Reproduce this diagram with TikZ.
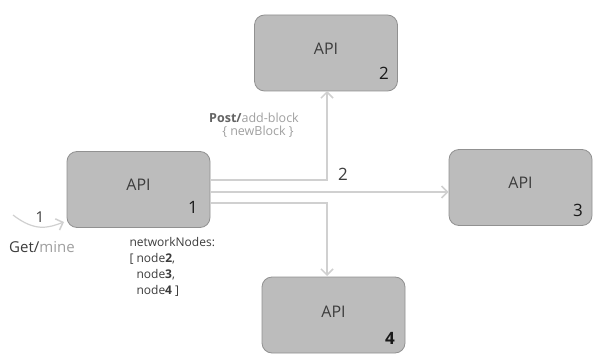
\documentclass[tikz,border=0pt]{standalone}
\usepackage{fontspec}
\setmainfont{Open Sans}
\usetikzlibrary{arrows.meta}
\definecolor{boxfill}{RGB}{188,188,188}
\definecolor{boxline}{RGB}{145,145,145}
\definecolor{conn}{RGB}{208,208,208}
\definecolor{txtdark}{RGB}{60,60,60}
\definecolor{txtlight}{RGB}{160,160,160}
\tikzset{
  apibox/.style={draw=boxline, line width=0.8pt, fill=boxfill, rounded corners=10pt,
    minimum width=143pt, minimum height=76pt, inner sep=0pt},
  apitext/.style={font=\fontsize{16}{18}\selectfont, text=txtdark},
  numtext/.style={font=\fontsize{17}{19}\selectfont, text=black!90, anchor=center},
  connector/.style={draw=conn, line width=1.8pt, -{Straight Barb[length=6pt,width=12pt,line width=1.5pt]}},
  smalltext/.style={font=\fontsize{12}{16}\selectfont, align=left, text=txtdark},
}
\begin{document}
\begin{tikzpicture}[x=1pt,y=-1pt]
\useasboundingbox[fill=white] (0,0) rectangle (593,358);
% boxes
\node[apibox] (b1) at (138.5,189.5) {};
\node[apibox] (b2) at (326,53) {};
\node[apibox] (b3) at (520.5,187.5) {};
\node[apibox] (b4) at (333.5,315) {};
\node[apitext] (t1) at (138.5,185) {API};
\node[apitext] (t2) at (326,49) {API};
\node[apitext] (t3) at (520.5,183) {API};
\node[apitext] (t4) at (333.5,312) {API};
\node[numtext] (n1) at (193,207) {1};
\node[numtext] (n2) at (384,73) {2};
\node[numtext] (n3) at (578,210) {3};
\node[numtext] (n4) at (390,338) {\textbf{4}};
% connectors
\coordinate (u1) at (210,180);
\coordinate (u2) at (327,180);
\coordinate (m1) at (210,192);
\coordinate (l1) at (210,203);
\coordinate (l2) at (327,203);
\coordinate (l3) at (327,276);
\coordinate (u3) at (327,91);
\draw[connector] (u1) -- (u2) -- (u3);
\draw[connector] (m1) -- (b3.west |- m1);
\draw[connector] (l1) -- (l2) -- (l3);
\node[font=\fontsize{17}{19}\selectfont, text=txtdark] (lab2) at (343,174) {2};
% labels
\node[font=\fontsize{12.5}{14}\selectfont\bfseries, text=txtdark!80] (post) at (254,118)
  {Post/\textcolor{txtlight}{\mdseries add-block}};
\node[font=\fontsize{12.5}{14}\selectfont, text=txtlight] (nb) at (258,132) {\{ newBlock \}};
\node[smalltext, anchor=north west] (nn) at (126,234)
  {networkNodes:\\{}[ node\textbf{2},\\{}\hspace*{7pt}node\textbf{3},\\{}\hspace*{7pt}node\textbf{4} ]};
% left incoming arrow
\coordinate (s0) at (13,215);
\coordinate (s1) at (64,222);
\draw[connector, line width=1.2pt] (s0) .. controls (35,232) and (48,228) .. (s1);
\node[font=\fontsize{15}{17}\selectfont, text=txtdark] (one) at (40,217) {1};
\node[font=\fontsize{15}{17}\selectfont, text=txtdark] (get) at (42,247)
  {Get/\textcolor{txtlight}{mine}};
\end{tikzpicture}
\end{document}
